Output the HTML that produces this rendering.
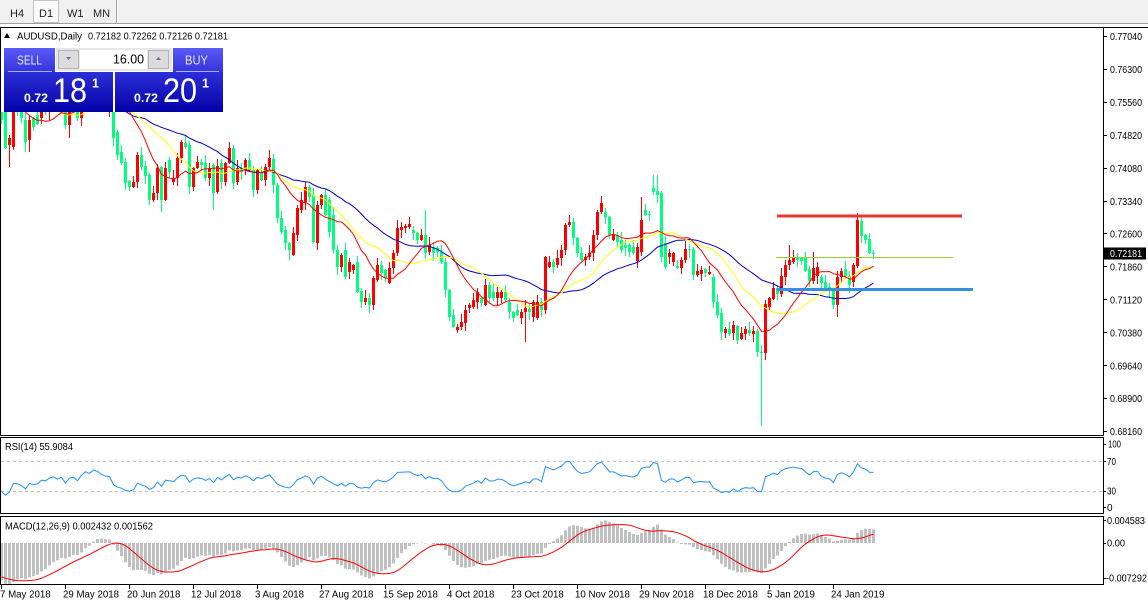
<!DOCTYPE html>
<html><head><meta charset="utf-8"><title>AUDUSD Daily</title>
<style>
html,body{margin:0;padding:0;background:#fff;}
body{width:1148px;height:605px;overflow:hidden;}
svg{display:block;font-family:"Liberation Sans",Arial,sans-serif;}
</style></head><body>
<svg id="s" xmlns="http://www.w3.org/2000/svg" width="1148" height="605" viewBox="0 0 1148 605">
<defs>
<clipPath id="cm"><rect x="1" y="28" width="1102" height="407"/></clipPath>
<clipPath id="cr"><rect x="1" y="438" width="1102" height="75"/></clipPath>
<clipPath id="cd"><rect x="1" y="517" width="1102" height="67"/></clipPath>
<linearGradient id="gb" x1="0" y1="0" x2="0" y2="1"><stop offset="0" stop-color="#5a5af6"/><stop offset="1" stop-color="#3434dc"/></linearGradient>
<linearGradient id="gp" x1="0" y1="0" x2="0" y2="1"><stop offset="0" stop-color="#2e2ed8"/><stop offset="1" stop-color="#0202a6"/></linearGradient>
</defs>
<rect width="1148" height="605" fill="#fff"/>
<!-- toolbar -->
<rect x="0" y="0" width="1148" height="24" fill="#f0f0f0"/>
<line x1="0" y1="23.5" x2="1148" y2="23.5" stroke="#a0a0a0"/>
<rect x="33.5" y="0.5" width="25" height="22" fill="#fafafa" stroke="#c4c4c4"/>
<g font-size="11" fill="#222">
<text x="10" y="17">H4</text><text x="39" y="17">D1</text><text x="67" y="17">W1</text><text x="93" y="17">MN</text>
</g>
<line x1="116.5" y1="0" x2="116.5" y2="23" stroke="#a0a0a0"/>
<line x1="117.5" y1="0" x2="117.5" y2="23" stroke="#fff"/>
<!-- frames -->
<line x1="0" y1="27.5" x2="1148" y2="27.5" stroke="#000"/>
<rect x="0.5" y="27.5" width="1103" height="408" fill="none" stroke="#000"/>
<rect x="0.5" y="437.5" width="1103" height="76" fill="none" stroke="#000"/>
<rect x="0.5" y="516.5" width="1103" height="68" fill="none" stroke="#000"/>
<!-- RSI levels -->
<line x1="1" y1="461.5" x2="1103" y2="461.5" stroke="#c0c0c0" stroke-dasharray="3,3"/>
<line x1="1" y1="491.5" x2="1103" y2="491.5" stroke="#c0c0c0" stroke-dasharray="3,3"/>

<g id="cand" clip-path="url(#cm)"></g>
<g id="ma" clip-path="url(#cm)"></g>
<g id="rsi" clip-path="url(#cr)"></g>
<g id="macd" clip-path="url(#cd)"></g>

<!-- horizontal objects -->
<line x1="777" y1="216" x2="962" y2="216" stroke="#ee3333" stroke-width="3"/>
<line x1="776" y1="257.5" x2="953" y2="257.5" stroke="#9acd32" stroke-width="1"/>
<line x1="777" y1="289.5" x2="973" y2="289.5" stroke="#3590e0" stroke-width="3"/>

<!-- header + panel background mask -->
<rect x="1" y="28" width="223" height="84" fill="#fff"/>
<polygon points="4,38 10,38 7,33" fill="#000"/>
<text x="17" y="39.5" font-size="10" textLength="65" lengthAdjust="spacingAndGlyphs">AUDUSD,Daily</text>
<text x="88" y="39.5" font-size="10" textLength="140" lengthAdjust="spacingAndGlyphs">0.72182 0.72262 0.72126 0.72181</text>

<!-- trade panel -->
<rect x="4" y="48" width="51" height="24" fill="url(#gb)"/>
<line x1="8" y1="71.5" x2="52" y2="71.5" stroke="#a8b0ff"/>
<text x="17" y="64.5" font-size="12.5" fill="#dfe4ff" textLength="25" lengthAdjust="spacingAndGlyphs">SELL</text>
<rect x="56" y="48" width="116" height="23" fill="#e6e6e6"/>
<rect x="58.5" y="50.5" width="20" height="18" fill="#dcdcdc" stroke="#b4b4b4"/>
<polygon points="66,57 71,57 68.5,60" fill="#6070a0"/>
<rect x="80" y="50" width="67" height="19" fill="#fff"/>
<text x="113" y="63.5" font-size="13" fill="#000" textLength="31" lengthAdjust="spacingAndGlyphs">16.00</text>
<rect x="148.5" y="50.5" width="20" height="18" fill="#dcdcdc" stroke="#b4b4b4"/>
<polygon points="156,60 161,60 158.5,57" fill="#6070a0"/>
<rect x="173" y="48" width="50" height="24" fill="url(#gb)"/>
<line x1="176" y1="71.5" x2="219" y2="71.5" stroke="#a8b0ff"/>
<text x="185" y="64.5" font-size="12.5" fill="#dfe4ff" textLength="23" lengthAdjust="spacingAndGlyphs">BUY</text>
<rect x="4" y="72" width="109" height="40" fill="url(#gp)"/>
<rect x="115" y="72" width="108" height="40" fill="url(#gp)"/>
<g fill="#fff">
<text x="24" y="102" font-size="11.5" font-weight="bold" textLength="24" lengthAdjust="spacingAndGlyphs">0.72</text>
<text x="53" y="102" font-size="34" textLength="34" lengthAdjust="spacingAndGlyphs">18</text>
<text x="92" y="87.5" font-size="12.5" font-weight="bold">1</text>
<text x="134" y="102" font-size="11.5" font-weight="bold" textLength="24" lengthAdjust="spacingAndGlyphs">0.72</text>
<text x="163" y="102" font-size="34" textLength="34" lengthAdjust="spacingAndGlyphs">20</text>
<text x="202" y="87.5" font-size="12.5" font-weight="bold">1</text>
</g>

<!-- price axis -->
<g stroke="#000">
<line x1="1104" y1="36.5" x2="1107" y2="36.5"/><line x1="1104" y1="69.5" x2="1107" y2="69.5"/>
<line x1="1104" y1="102.5" x2="1107" y2="102.5"/><line x1="1104" y1="135.5" x2="1107" y2="135.5"/>
<line x1="1104" y1="168.5" x2="1107" y2="168.5"/><line x1="1104" y1="201.5" x2="1107" y2="201.5"/>
<line x1="1104" y1="233.5" x2="1107" y2="233.5"/><line x1="1104" y1="266.5" x2="1107" y2="266.5"/>
<line x1="1104" y1="299.5" x2="1107" y2="299.5"/><line x1="1104" y1="332.5" x2="1107" y2="332.5"/>
<line x1="1104" y1="365.5" x2="1107" y2="365.5"/><line x1="1104" y1="398.5" x2="1107" y2="398.5"/>
<line x1="1104" y1="431.5" x2="1107" y2="431.5"/>
<line x1="1104" y1="444.5" x2="1106" y2="444.5"/><line x1="1104" y1="461.5" x2="1106" y2="461.5"/>
<line x1="1104" y1="491.5" x2="1106" y2="491.5"/><line x1="1104" y1="507.5" x2="1106" y2="507.5"/>
<line x1="1104" y1="520.5" x2="1106" y2="520.5"/><line x1="1104" y1="543.5" x2="1106" y2="543.5"/>
<line x1="1104" y1="578.5" x2="1106" y2="578.5"/>
</g>
<g font-size="10" fill="#000">
<text x="1110" y="40" textLength="32" lengthAdjust="spacingAndGlyphs">0.77040</text>
<text x="1110" y="73" textLength="32" lengthAdjust="spacingAndGlyphs">0.76300</text>
<text x="1110" y="106" textLength="32" lengthAdjust="spacingAndGlyphs">0.75560</text>
<text x="1110" y="139" textLength="32" lengthAdjust="spacingAndGlyphs">0.74820</text>
<text x="1110" y="172" textLength="32" lengthAdjust="spacingAndGlyphs">0.74080</text>
<text x="1110" y="205" textLength="32" lengthAdjust="spacingAndGlyphs">0.73340</text>
<text x="1110" y="237.5" textLength="32" lengthAdjust="spacingAndGlyphs">0.72600</text>
<text x="1110" y="270.5" textLength="32" lengthAdjust="spacingAndGlyphs">0.71860</text>
<text x="1110" y="303.5" textLength="32" lengthAdjust="spacingAndGlyphs">0.71120</text>
<text x="1110" y="336.5" textLength="32" lengthAdjust="spacingAndGlyphs">0.70380</text>
<text x="1110" y="369.5" textLength="32" lengthAdjust="spacingAndGlyphs">0.69640</text>
<text x="1110" y="402" textLength="32" lengthAdjust="spacingAndGlyphs">0.68900</text>
<text x="1110" y="435" textLength="32" lengthAdjust="spacingAndGlyphs">0.68160</text>
<text x="1108" y="447.5" textLength="13" lengthAdjust="spacingAndGlyphs">100</text>
<text x="1107" y="465" textLength="9" lengthAdjust="spacingAndGlyphs">70</text>
<text x="1107" y="494.5" textLength="9" lengthAdjust="spacingAndGlyphs">30</text>
<text x="1107" y="511">0</text>
<text x="1107" y="524" textLength="38" lengthAdjust="spacingAndGlyphs">0.004583</text>
<text x="1107" y="546.5" textLength="18" lengthAdjust="spacingAndGlyphs">0.00</text>
<text x="1106" y="581.5" textLength="41" lengthAdjust="spacingAndGlyphs">-0.007292</text>
</g>
<rect x="1104" y="247.5" width="42" height="12" fill="#000"/>
<text x="1110" y="257" font-size="10" fill="#fff" textLength="32" lengthAdjust="spacingAndGlyphs">0.72181</text>

<!-- indicator labels -->
<text x="5" y="450" font-size="10" textLength="68" lengthAdjust="spacingAndGlyphs">RSI(14) 55.9084</text>
<text x="5" y="529.5" font-size="10" textLength="148" lengthAdjust="spacingAndGlyphs">MACD(12,26,9) 0.002432 0.001562</text>

<!-- date axis -->
<g id="dates" font-size="9.7" fill="#000"></g>
</svg>
<script>
(function(){
var B=[
[108,120],[110,148],[145,138,null,167],[147,105],[100,108],[105,118],[120,142,null,152],[140,120,null,152],[118,127],[115,124],
[118,108],[108,112],[112,100],[100,95],[95,105],[105,98],[98,125],[125,105,null,138],[105,100],[100,118],
[118,92],[92,72],[72,80],[80,60,54],[60,66],[66,80],[80,88],[104,90,null,117],[90,138],[132,155],
[152,163],[162,183],[181,187],[187,182],[182,155],[155,167],[166,176],[175,200],[200,193],[193,168],
[167,200,null,212],[200,168],[160,172],[182,178],[178,158],[158,142],[143,147],[145,187],[187,168],[168,162],
[162,165],[163,178],[178,168],[165,193,null,210],[192,166],[163,182],[182,163],[163,148],[148,183],[182,168],
[168,172],[170,160],[160,170],[170,190],[190,170],[172,180],[180,167],[167,158],[159,185],[185,218],
[218,232],[230,243],[243,250,null,260],[255,233],[235,208],[210,200],[202,187],[187,197],[195,242],[243,205],
[205,195],[195,215],[200,232],[215,250],[250,267],[267,255],[250,277],[272,262],[270,265],[262,292],
[291,302],[302,298],[298,305],[305,278],[280,265],[265,273],[270,278],[283,268],[268,253],[253,228],
[230,227],[228,226],[227,224],[230,233],[233,240],[240,235],[235,253,210],[252,245],[247,253],[248,252],
[252,262],[262,290],[290,317],[315,327],[330,327,null,333],[327,322],[323,310],[308,305],[307,300],[302,292],
[298,303],[305,285],[285,298],[292,298],[298,292],[298,292],[292,300],[302,312],[312,318],[310,315],
[318,312],[312,308,null,342],[309,312],[317,302],[318,302],[302,310],[310,257],[267,262],[262,267],[265,258],
[258,250],[250,225],[225,222],[222,238],[238,253],[253,260],[260,257],[257,253],[253,235],[235,212],
[212,203],[212,217],[217,235],[240,235],[235,242],[240,250],[245,248],[245,252],[247,253],[261,247],
[252,220,197],[210,215],[214,215],[188,192,175],[191,195,175],[193,257],[243,267],[257,253],[262,253],[266,268],
[268,260],[260,249],[249,250],[249,275],[275,271],[274,270],[269,273],[274,272],[277,302],[302,315],
[313,332],[333,329],[329,334],[333,325],[326,340],[339,333],[334,329],[330,333],[334,331],[331,352],
[352,353,null,426],[353,304],[307,298],[299,288],[288,294],[294,276],[277,265],[265,260,245],[262,257],[257,260],
[258,261],[258,271],[269,281],[281,268,252],[276,267],[277,283],[282,289],[287,291],[291,305],[305,277,null,317],
[277,271],[269,276],[276,285],[282,265],[266,220],[221,236],[235,240],[239,253],[253,253]
];
var NS="http://www.w3.org/2000/svg";
function mk(p,t,a){var e=document.createElementNS(NS,t);for(var key in a)e.setAttribute(key,a[key]);p.appendChild(e);return e;}
var gC=document.getElementById('cand'),gM=document.getElementById('ma'),gR=document.getElementById('rsi'),gD=document.getElementById('macd'),gT=document.getElementById('dates');
var N=B.length,P=50,C=[],i,j,k;
for(k=0;k<P;k++){var base=k<24?-25:-25+(k-24)*(112+25)/25;C.push(base+(((k*29)%13)-6)*(k<24?1:2.2));}
for(i=0;i<N;i++)C.push(B[i][1]);
// candles
for(i=0;i<N;i++){
 var bb=B[i],op=bb[0],cl=bb[1],cx=1+4*i;
 var tp=Math.min(op,cl),bt=Math.max(op,cl);
 var hi=(bb[2]!=null)?bb[2]:tp-(1+(i*37)%8);
 var lo=(bb[3]!=null)?bb[3]:bt+(1+(i*53+3)%8);
 if(i>=16&&i<=27&&hi<52)hi=52;
 var col=cl<op?'#ff0000':'#00ff7f';
 mk(gC,'rect',{x:cx,y:hi,width:1,height:lo-hi,fill:col});
 mk(gC,'rect',{x:cx-1,y:tp,width:3,height:Math.max(1,bt-tp),fill:col});
}
// moving averages
function sma(n,jj){var s=0;for(var q=jj-n+1;q<=jj;q++)s+=C[q];return s/n;}
[[34,'#0000c8'],[21,'#ffff00'],[13,'#ff0000']].forEach(function(m){
 var pts=[];for(var ii=0;ii<N;ii++){var jj=P+ii;if(jj-m[0]+1<0)continue;pts.push((1+4*ii+0.5)+','+sma(m[0],jj).toFixed(1));}
 mk(gM,'polyline',{points:pts.join(' '),fill:'none',stroke:m[1],'stroke-width':1});
});
// RSI
var pr=C.map(function(y){return 0.7704-(y-37)/4448;});
var ag=0,al=0,rsi=[50];
for(j=1;j<C.length;j++){var d=pr[j]-pr[j-1],g=d>0?d:0,ls=d<0?-d:0;
 if(j<=14){ag+=g/14;al+=ls/14;}else{ag=(ag*13+g)/14;al=(al*13+ls)/14;}
 rsi[j]=al==0?100:100-100/(1+ag/al);}
var pts=[];for(i=0;i<N;i++)pts.push((1+4*i+0.5)+','+(513.5-rsi[P+i]*0.74).toFixed(1));
mk(gR,'polyline',{points:pts.join(' '),fill:'none',stroke:'#1e90ff','stroke-width':1});
// MACD
var e12=pr[0],e26=pr[0],mn=[];
for(j=0;j<C.length;j++){e12+=(pr[j]-e12)*2/13;e26+=(pr[j]-e26)*2/27;mn.push(e12-e26);}
var Z=543;
for(i=0;i<N;i++){var v=mn[P+i],yy=Z-v*5642;var t=Math.min(yy,Z),hh=Math.abs(yy-Z);if(hh<0.5)continue;
 mk(gD,'rect',{x:1+4*i-1,y:t.toFixed(1),width:3,height:hh.toFixed(1),fill:'#c0c0c0'});}
pts=[];for(i=0;i<N;i++){var jj=P+i,s=0;for(k=jj-8;k<=jj;k++)s+=mn[k];s/=9;pts.push((1+4*i+0.5)+','+(Z-s*5642).toFixed(1));}
mk(gD,'polyline',{points:pts.join(' '),fill:'none',stroke:'#ff0000','stroke-width':1});
// dates
var DL=["7 May 2018","29 May 2018","20 Jun 2018","12 Jul 2018","3 Aug 2018","27 Aug 2018","15 Sep 2018","4 Oct 2018","23 Oct 2018","10 Nov 2018","29 Nov 2018","18 Dec 2018","5 Jan 2019","24 Jan 2019"];
for(i=0;i<DL.length;i++){var tx=1+64*i;
 mk(gT,'line',{x1:tx+0.5,y1:585,x2:tx+0.5,y2:589,stroke:'#000'});
 var te=mk(gT,'text',{x:(i==0?0:tx-2),y:597.5});te.textContent=DL[i];}
})();
</script>
</body></html>
